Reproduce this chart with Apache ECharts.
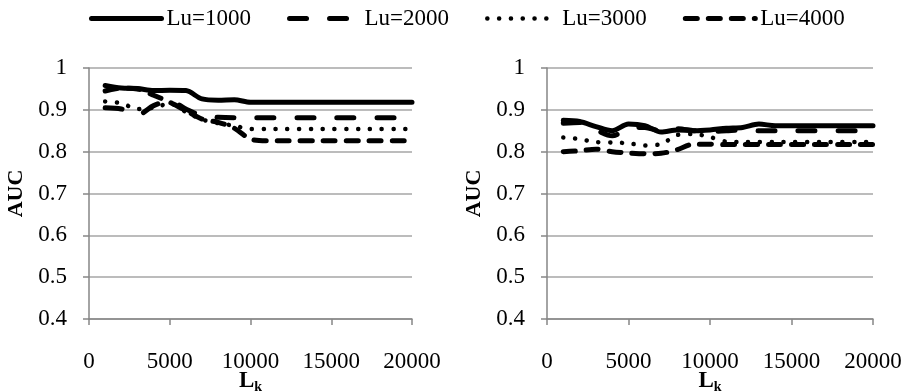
<!DOCTYPE html>
<html>
<head>
<meta charset="utf-8">
<script src="https://cdn.jsdelivr.net/npm/echarts@6/dist/echarts.min.js"></script>
<style>
  html, body { margin: 0; padding: 0; background: #fff; }
  #chart { width: 906px; height: 392px; }
</style>
</head>
<body>
<div id="chart"></div>
<script>
// L_k values (x axis)
const lk = [1000, 2000, 3000, 4000, 5000, 6000, 7000, 8000, 9000, 10000,
            11000, 12000, 13000, 14000, 15000, 16000, 17000, 18000, 19000, 20000];

const seriesNames = ['Lu=1000', 'Lu=2000', 'Lu=3000', 'Lu=4000'];

// left panel
const leftLu1000 = [0.958, 0.952, 0.951, 0.946, 0.947, 0.946, 0.926, 0.923, 0.924, 0.918,
                    0.918, 0.918, 0.918, 0.918, 0.918, 0.918, 0.918, 0.918, 0.918, 0.918];
const leftLu2000 = [0.905, 0.902, 0.888, 0.910, 0.922, 0.902, 0.886, 0.882, 0.881, 0.881,
                    0.881, 0.881, 0.881, 0.881, 0.881, 0.881, 0.881, 0.881, 0.881, 0.881];
const leftLu3000 = [0.920, 0.916, 0.902, 0.905, 0.915, 0.895, 0.877, 0.868, 0.862, 0.854,
                    0.854, 0.854, 0.854, 0.854, 0.854, 0.854, 0.854, 0.854, 0.854, 0.854];
const leftLu4000 = [0.945, 0.952, 0.950, 0.935, 0.918, 0.898, 0.878, 0.870, 0.856, 0.830,
                    0.826, 0.826, 0.826, 0.826, 0.826, 0.826, 0.826, 0.826, 0.826, 0.826];

// right panel
const rightLu1000 = [0.875, 0.872, 0.860, 0.850, 0.866, 0.862, 0.847, 0.852, 0.850, 0.852,
                     0.856, 0.858, 0.866, 0.862, 0.862, 0.862, 0.862, 0.862, 0.862, 0.862];
const rightLu2000 = [0.868, 0.870, 0.852, 0.838, 0.855, 0.858, 0.850, 0.855, 0.850, 0.848,
                     0.850, 0.852, 0.850, 0.850, 0.850, 0.850, 0.850, 0.850, 0.850, 0.850];
const rightLu3000 = [0.834, 0.830, 0.823, 0.822, 0.820, 0.815, 0.818, 0.840, 0.842, 0.835,
                     0.824, 0.823, 0.823, 0.823, 0.823, 0.823, 0.823, 0.823, 0.823, 0.823];
const rightLu4000 = [0.800, 0.802, 0.806, 0.800, 0.797, 0.795, 0.796, 0.805, 0.818, 0.818,
                     0.817, 0.817, 0.817, 0.817, 0.817, 0.817, 0.817, 0.817, 0.817, 0.817];

const font = 'Liberation Serif';

const lineStyles = [
    { type: 'solid', width: 5 },
    { type: [17, 23], width: 5 },
    { type: [0.1, 11.7], width: 4.5 },
    { type: [12, 11], width: 5 }
];

const pair = (ys) => lk.map((x, i) => [x, ys[i]]);

function makeSeries(datasets, axisIdx) {
    return datasets.map((ys, i) => ({
        name: seriesNames[i],
        type: 'line',
        xAxisIndex: axisIdx,
        yAxisIndex: axisIdx,
        smooth: 0.3,
        symbol: 'none',
        z: 10 - i,
        lineStyle: { color: '#000', width: lineStyles[i].width, type: lineStyles[i].type, cap: 'round' },
        itemStyle: { color: '#000' },
        data: pair(ys)
    }));
}

function xAxis(gridIndex) {
    return {
        type: 'value',
        gridIndex: gridIndex,
        min: 0, max: 20000, interval: 5000,
        name: '{l|L}{k|k}',
        nameLocation: 'middle',
        nameGap: 49,
        nameMoveOverlap: false,
        nameTextStyle: {
            rich: {
                l: { fontFamily: font, fontWeight: 'bold', fontSize: 23, color: '#000' },
                k: { fontFamily: font, fontWeight: 'bold', fontSize: 14, color: '#000', padding: [12, 0, 0, 0] }
            }
        },
        axisLine: { lineStyle: { color: '#868686', width: 1.5 } },
        axisTick: { show: true, inside: false, length: 6, lineStyle: { color: '#868686', width: 1.5 } },
        axisLabel: {
            fontFamily: font, fontSize: 23, color: '#000', margin: 31,
            formatter: (v) => String(v)
        },
        splitLine: { show: false }
    };
}

function yAxis(gridIndex) {
    return {
        type: 'value',
        gridIndex: gridIndex,
        min: 0.4, max: 1, interval: 0.1,
        name: 'AUC',
        nameLocation: 'middle',
        nameRotate: 90,
        nameGap: 62,
        nameMoveOverlap: false,
        nameTextStyle: { fontFamily: font, fontWeight: 'bold', fontSize: 22, color: '#000' },
        axisLine: { show: true, lineStyle: { color: '#868686', width: 1.5 } },
        axisTick: { show: true, inside: false, length: 6, lineStyle: { color: '#868686', width: 1.5 } },
        axisLabel: {
            fontFamily: font, fontSize: 23, color: '#000', margin: 22,
            formatter: (v) => String(parseFloat(v.toFixed(1)))
        },
        splitLine: { show: true, lineStyle: { color: '#a6a6a6', width: 1.5 } }
    };
}

const chart = echarts.init(document.getElementById('chart'));

const option = {
    animation: false,
    backgroundColor: '#fff',
    legend: {
        data: seriesNames.map((n, i) => ({
            name: n,
            itemStyle: { color: 'transparent', borderWidth: 0, opacity: 0 },
            lineStyle: { color: '#000', width: lineStyles[i].width, type: lineStyles[i].type, cap: 'round' }
        })),
        left: 84,
        top: 2,
        itemWidth: 70,
        itemHeight: 14,
        itemGap: 36,
        textStyle: { fontFamily: font, fontSize: 23, color: '#000' }
    },
    grid: [
        { left: 89, right: 494, top: 68, bottom: 73, outerBoundsMode: 'none' },
        { left: 547, right: 33, top: 68, bottom: 73, outerBoundsMode: 'none' }
    ],
    xAxis: [xAxis(0), xAxis(1)],
    yAxis: [yAxis(0), yAxis(1)],
    series: [
        ...makeSeries([leftLu1000, leftLu2000, leftLu3000, leftLu4000], 0),
        ...makeSeries([rightLu1000, rightLu2000, rightLu3000, rightLu4000], 1)
    ]
};

chart.setOption(option);
</script>
</body>
</html>
